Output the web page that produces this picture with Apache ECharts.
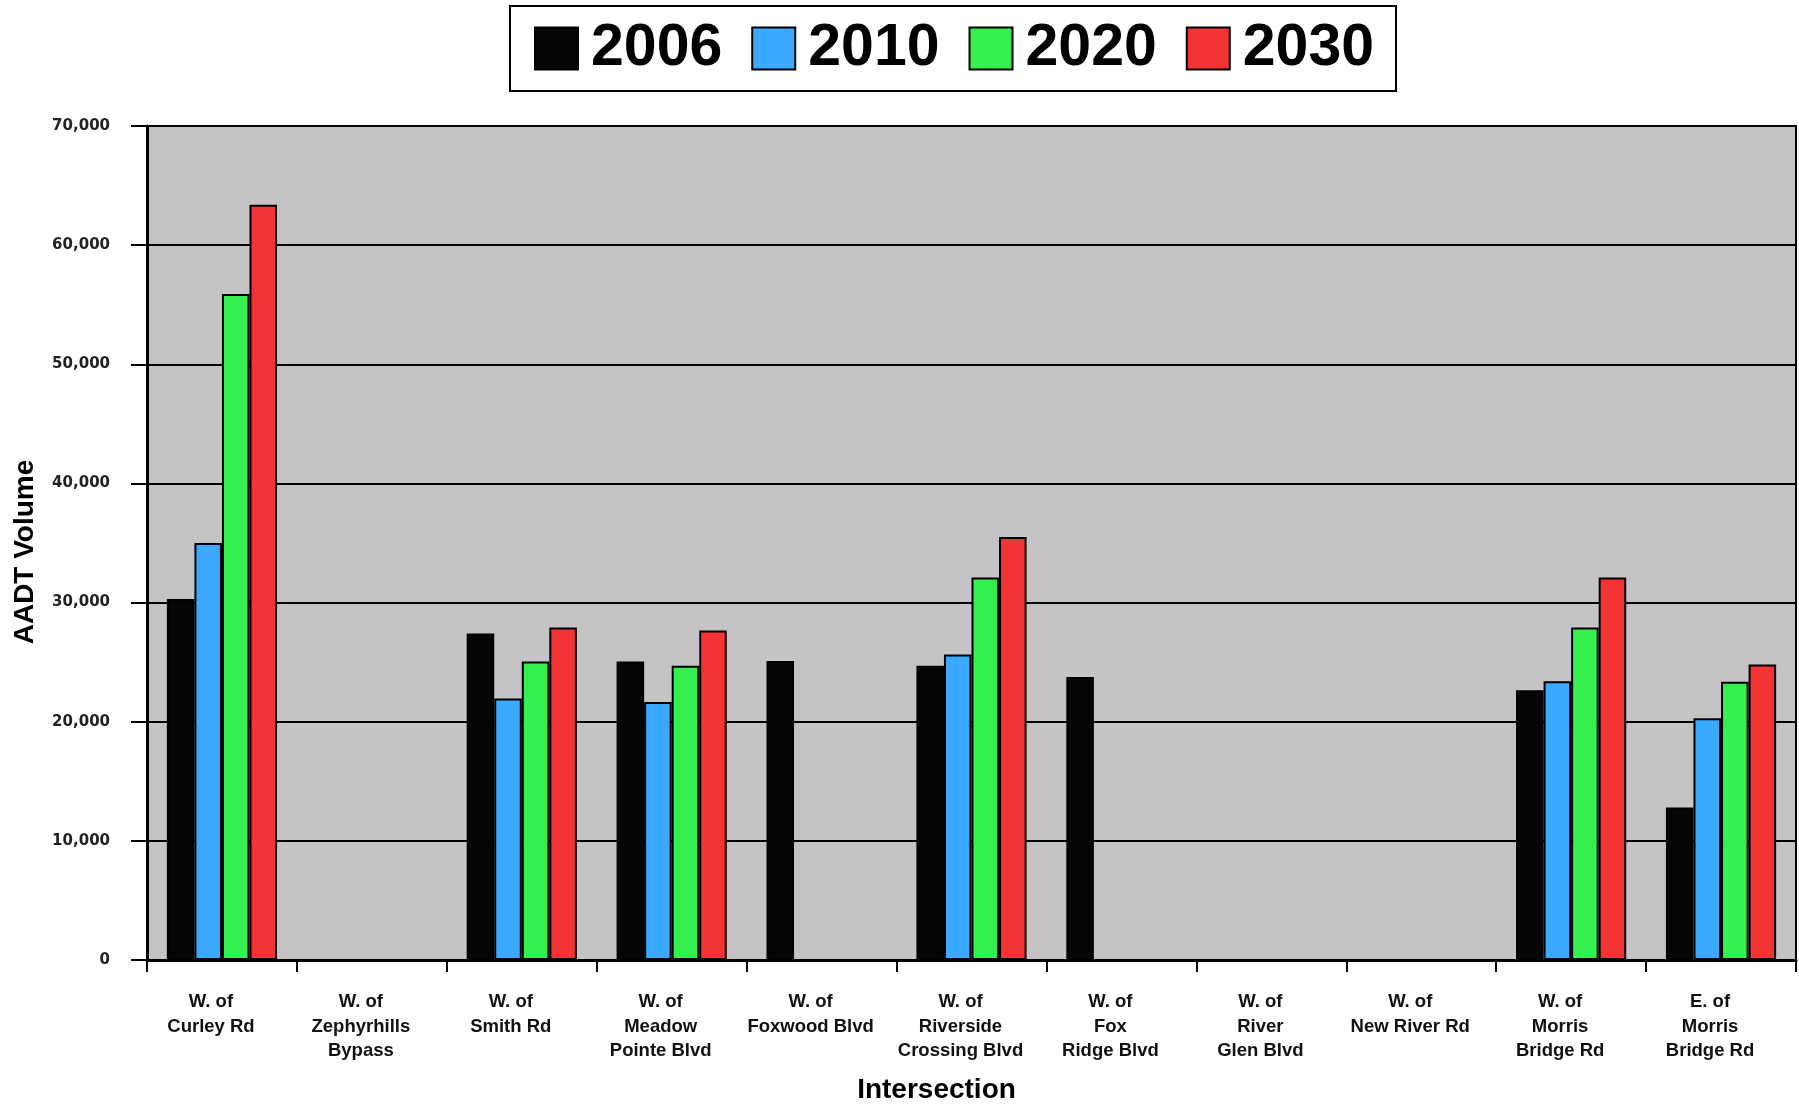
<!DOCTYPE html>
<html>
<head>
<meta charset="utf-8">
<script src="https://cdn.jsdelivr.net/npm/echarts@6/dist/echarts.min.js"></script>
<style>html,body{margin:0;padding:0;background:#fff;}#c{width:1799px;height:1109px;}</style>
</head>
<body>
<div id="c"></div>
<script>
const categories = [
  "W. of\nCurley Rd", "W. of\nZephyrhills\nBypass", "W. of\nSmith Rd", "W. of\nMeadow\nPointe Blvd",
  "W. of\nFoxwood Blvd", "W. of\nRiverside\nCrossing Blvd", "W. of\nFox\nRidge Blvd", "W. of\nRiver\nGlen Blvd",
  "W. of\nNew River Rd", "W. of\nMorris\nBridge Rd", "E. of\nMorris\nBridge Rd"
];
const seriesNames = ["2006", "2010", "2020", "2030"];
const v2006 = [30300, null, 27400, 25050, 25100, 24700, 23750, null, null, 22650, 12800];
const v2010 = [35000, null, 21950, 21650, null, 25650, null, null, null, 23400, 20300];
const v2020 = [55900, null, 25050, 24700, null, 32100, null, null, null, 27900, 23350];
const v2030 = [63400, null, 27900, 27650, null, 35500, null, null, null, 32100, 24800];
const yTicks = [0, 10000, 20000, 30000, 40000, 50000, 60000, 70000];

const colors = ["#050505", "#3ba9ff", "#35f04e", "#f23434"];
const allValues = [v2006, v2010, v2020, v2030];
const FONT = "'Liberation Sans', Arial, sans-serif";

const chart = echarts.init(document.getElementById('c'), null, {renderer: 'canvas'});
chart.setOption({
  backgroundColor: '#ffffff',
  animation: false,
  legend: {
    left: 510, top: 6,
    orient: 'horizontal',
    padding: [13, 22, 13, 24],
    borderColor: '#000', borderWidth: 2,
    backgroundColor: '#fff',
    itemWidth: 43, itemHeight: 42, itemGap: 29,
    icon: 'rect',
    textStyle: {fontFamily: FONT, fontWeight: 'bold', fontSize: 59, color: '#000', lineHeight: 42, height: 42, padding: [0, 0, 0, 8]},
    data: seriesNames
  },
  grid: {
    left: 147, right: 3, top: 126, bottom: 142,
    show: true, backgroundColor: '#c6c3c7', borderColor: '#000', borderWidth: 2
  },
  xAxis: {
    type: 'category',
    data: categories,
    name: 'Intersection',
    nameLocation: 'middle',
    nameGap: 116,
    nameTextStyle: {fontFamily: FONT, fontWeight: 'bold', fontSize: 28, color: '#000', padding: [0, 70, 0, 0]},
    axisLine: {show: true, lineStyle: {color: '#000', width: 3}},
    axisTick: {show: true, alignWithLabel: false, interval: 0, length: 12, lineStyle: {color: '#000', width: 2}},
    axisLabel: {interval: 0, margin: 30, fontFamily: FONT, fontWeight: 'bold', fontSize: 18.5, lineHeight: 24.5, color: '#111',
      padding: [0, 22, 0, 0]},
    splitLine: {show: false}
  },
  yAxis: {
    type: 'value',
    min: yTicks[0], max: yTicks[yTicks.length - 1], interval: 10000,
    name: 'AADT Volume',
    nameLocation: 'middle',
    nameGap: 108,
    nameTextStyle: {fontFamily: FONT, fontWeight: 'bold', fontSize: 28, color: '#000', padding: [0, 18, 0, 0]},
    axisLine: {show: true, lineStyle: {color: '#000', width: 3}},
    axisTick: {show: true, inside: false, length: 16, lineStyle: {color: '#000', width: 2}},
    axisLabel: {margin: 37, fontFamily: "'DejaVu Sans', sans-serif", fontWeight: 'bold', fontSize: 15, color: '#222',
      formatter: v => v.toLocaleString('en-US')},
    splitLine: {show: true, lineStyle: {color: '#000', width: 2}}
  },
  series: seriesNames.map((n, i) => ({
    name: n,
    type: 'bar',
    data: allValues[i],
    barGap: '0%',
    barCategoryGap: '26.5%',
    itemStyle: {color: colors[i], borderColor: '#000', borderWidth: 2}
  }))
});
</script>
</body>
</html>
